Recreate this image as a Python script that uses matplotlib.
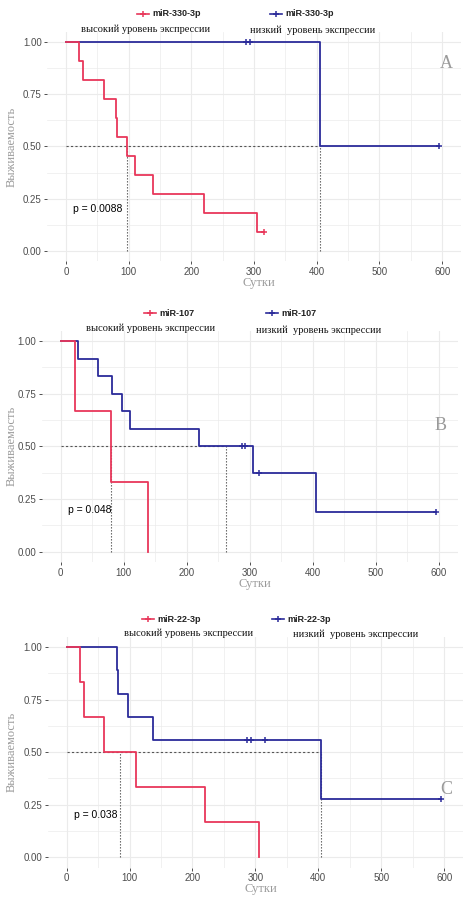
import matplotlib
matplotlib.use("Agg")
import matplotlib.pyplot as plt

W, H = 472, 908

# ---------------- data ----------------
# Panel A: miR-330-3p
a_hi_t = [0, 21, 27, 60, 80, 82, 97, 110, 138, 220, 305, 315]
a_hi_s = [1.0, 0.909, 0.818, 0.727, 0.636, 0.545, 0.455, 0.364, 0.273, 0.182, 0.091, 0.091]
a_hi_cens_t = [315]
a_hi_cens_s = [0.091]
a_lo_t = [0, 405, 595]
a_lo_s = [1.0, 0.5, 0.5]
a_lo_cens_t = [287, 293, 595]
a_lo_cens_s = [1.0, 1.0, 0.5]
a_median = [97, 405]

# Panel B: miR-107
b_hi_t = [0, 22, 80, 138]
b_hi_s = [1.0, 0.667, 0.333, 0.0]
b_hi_cens_t = []
b_hi_cens_s = []
b_lo_t = [0, 27, 59, 81, 97, 110, 220, 305, 405, 595]
b_lo_s = [1.0, 0.917, 0.833, 0.75, 0.667, 0.583, 0.5, 0.375, 0.1875, 0.1875]
b_lo_cens_t = [287, 293, 315, 595]
b_lo_cens_s = [0.5, 0.5, 0.375, 0.1875]
b_median = [80, 263]

# Panel C: miR-22-3p
c_hi_t = [0, 21, 27, 59, 110, 220, 305]
c_hi_s = [1.0, 0.833, 0.667, 0.5, 0.333, 0.167, 0.0]
c_hi_cens_t = []
c_hi_cens_s = []
c_lo_t = [0, 80, 82, 97, 138, 405, 595]
c_lo_s = [1.0, 0.889, 0.778, 0.667, 0.556, 0.278, 0.278]
c_lo_cens_t = [287, 293, 315, 595]
c_lo_cens_s = [0.556, 0.556, 0.556, 0.278]
c_median = [85, 405]

genes = ["miR-330-3p", "miR-107", "miR-22-3p"]
pvals = ["p = 0.0088", "p = 0.048", "p = 0.038"]
letters = ["A", "B", "C"]
x_ticks = [0, 100, 200, 300, 400, 500, 600]
y_ticks = [0.00, 0.25, 0.50, 0.75, 1.00]
y_ticklabels = ["0.00", "0.25", "0.50", "0.75", "1.00"]
hi_label = "высокий уровень экспрессии"
lo_label = "низкий  уровень экспрессии"
xlabel = "Сутки"
ylabel = "Выживаемость"

RED = "#E8375A"
BLUE = "#2B2B9A"
GRID = "#EBEBEB"
TICKC = "#4D4D4D"

panels = [
    dict(hi=(a_hi_t, a_hi_s, a_hi_cens_t, a_hi_cens_s), lo=(a_lo_t, a_lo_s, a_lo_cens_t, a_lo_cens_s),
         med=a_median, box=(47.2, 31.5, 461.0, 261.5),
         leg=(143, 276, 14), ann=((146, 29), (313, 30)), letter=(446, 64), xlab_y=283),
    dict(hi=(b_hi_t, b_hi_s, b_hi_cens_t, b_hi_cens_s), lo=(b_lo_t, b_lo_s, b_lo_cens_t, b_lo_cens_s),
         med=b_median, box=(41.8, 330.5, 457.6, 562.2),
         leg=(150, 272, 313), ann=((151, 328), (319, 330)), letter=(441, 425), xlab_y=584),
    dict(hi=(c_hi_t, c_hi_s, c_hi_cens_t, c_hi_cens_s), lo=(c_lo_t, c_lo_s, c_lo_cens_t, c_lo_cens_s),
         med=c_median, box=(47.8, 636.5, 463.0, 867.8),
         leg=(148, 278, 619), ann=((189, 633), (356, 634)), letter=(446, 789), xlab_y=889),
]

fig = plt.figure(figsize=(W / 100, H / 100), dpi=100)
fig.patch.set_facecolor("white")

def fx(px):
    return px / W

def fy(py):
    return 1 - py / H

SERIF = ["Liberation Serif", "DejaVu Serif"]
SANS = ["Liberation Sans", "DejaVu Sans"]

for i, p in enumerate(panels):
    x0, y0, x1, y1 = p["box"]
    ax = fig.add_axes([fx(x0), fy(y1), fx(x1) - fx(x0), fy(y0) - fy(y1)])
    ax.set_xlim(-30, 630)
    ax.set_ylim(-0.05, 1.05)
    for s in ax.spines.values():
        s.set_visible(False)
    # grid
    for gx in range(0, 601, 50):
        ax.axvline(gx, color=GRID, lw=0.8 if gx % 100 == 0 else 0.5, zorder=0)
    for k in range(9):
        gy = k * 0.125
        ax.axhline(gy, color=GRID, lw=0.8 if k % 2 == 0 else 0.5, zorder=0)
    ax.set_xticks(x_ticks)
    ax.set_xticklabels([str(v) for v in x_ticks], fontsize=7, color=TICKC, family=SANS)
    ax.set_yticks(y_ticks)
    ax.set_yticklabels(y_ticklabels, fontsize=7, color=TICKC, family=SANS)
    ax.tick_params(axis="both", length=2, width=0.6, color="#333333", pad=2)

    # median lines
    m1, m2 = p["med"]
    ax.plot([0, max(m1, m2)], [0.5, 0.5], ls=(0, (2, 2)), color="#555555", lw=0.8, zorder=2)
    for m in (m1, m2):
        ax.plot([m, m], [0, 0.5], ls=(0, (1.2, 1.5)), color="#555555", lw=0.8, zorder=2)

    for key, col in (("lo", BLUE), ("hi", RED)):
        t, s, ct, cs = p[key]
        ax.step(t, s, where="post", color=col, lw=1.3, zorder=3)
        if ct:
            ax.plot(ct, cs, ls="none", marker="+", ms=5, mew=1.1, color=col, zorder=4)

    ax.text(11, 0.2, pvals[i], fontsize=7.5, family=SANS, color="black", ha="left", va="center")

    # legend row
    rx, bx, ly = p["leg"]
    for mx, col in ((rx, RED), (bx, BLUE)):
        fig.add_artist(plt.Line2D([fx(mx - 6), fx(mx + 6)], [fy(ly), fy(ly)], color=col, lw=1.2,
                                  transform=fig.transFigure))
        fig.add_artist(plt.Line2D([fx(mx)], [fy(ly)], marker="+", ms=5, mew=1.1, color=col,
                                  transform=fig.transFigure))
        fig.text(fx(mx + 9), fy(ly), genes[i], fontsize=6.5, fontweight="bold", family=SANS,
                 ha="left", va="center", color="#222222")
    (hx, hy), (lx, lyy) = p["ann"]
    fig.text(fx(hx), fy(hy), hi_label, fontsize=7.5, family=SERIF, ha="center", va="center", color="#111111")
    fig.text(fx(lx), fy(lyy), lo_label, fontsize=7.5, family=SERIF, ha="center", va="center", color="#111111")
    lxx, lyl = p["letter"]
    fig.text(fx(lxx), fy(lyl), letters[i], fontsize=13, family=SERIF, ha="center", va="center", color="#9A9A9A")

    # axis labels
    fig.text(fx(12), fy((y0 + y1) / 2), ylabel, rotation=90, fontsize=9, family=SERIF,
             ha="center", va="center", color="#9A9A9A")
    fig.text(fx((x0 + x1) / 2 + 5), fy(p["xlab_y"]), xlabel, fontsize=9, family=SERIF,
             ha="center", va="center", color="#9A9A9A")

fig.savefig("out.png", dpi=100, facecolor="white")
